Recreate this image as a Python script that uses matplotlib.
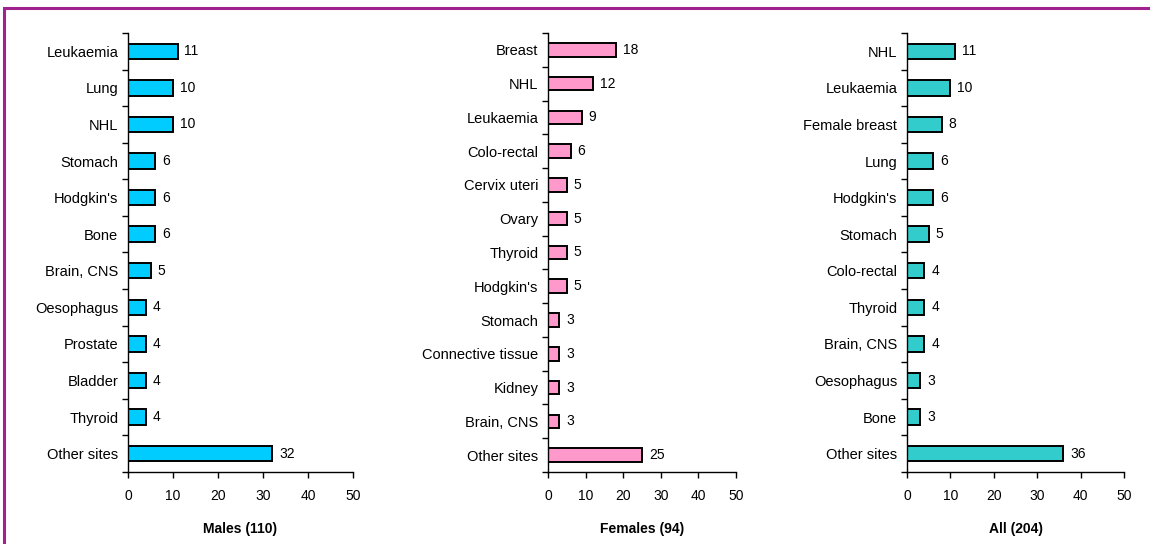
import matplotlib.pyplot as plt
from matplotlib.patches import Rectangle

plt.rcParams['font.family'] = ['Liberation Sans', 'DejaVu Sans']

# data, top to bottom
males_sites = ["Leukaemia", "Lung", "NHL", "Stomach", "Hodgkin's", "Bone",
               "Brain, CNS", "Oesophagus", "Prostate", "Bladder", "Thyroid",
               "Other sites"]
males_pct = [11, 10, 10, 6, 6, 6, 5, 4, 4, 4, 4, 32]

females_sites = ["Breast", "NHL", "Leukaemia", "Colo-rectal", "Cervix uteri",
                 "Ovary", "Thyroid", "Hodgkin's", "Stomach",
                 "Connective tissue", "Kidney", "Brain, CNS", "Other sites"]
females_pct = [18, 12, 9, 6, 5, 5, 5, 5, 3, 3, 3, 3, 25]

all_sites = ["NHL", "Leukaemia", "Female breast", "Lung", "Hodgkin's",
             "Stomach", "Colo-rectal", "Thyroid", "Brain, CNS", "Oesophagus",
             "Bone", "Other sites"]
all_pct = [11, 10, 8, 6, 6, 5, 4, 4, 4, 3, 3, 36]

titles = ["Males (110)", "Females (94)", "All (204)"]
xticks = [0, 10, 20, 30, 40, 50]

fig = plt.figure(figsize=(11.5, 5.44), dpi=100)

# purple frame
fig.patches.append(Rectangle((0.0035, -0.05), 1.1, 1.0355, transform=fig.transFigure,
                             fill=False, edgecolor='#A0228F', linewidth=2.2))

panels = [
    (males_sites, males_pct, '#00CCFF', [0.1113, 0.1324, 0.1957, 0.807], 0.42),
    (females_sites, females_pct, '#FF99CC', [0.4765, 0.1324, 0.1635, 0.807], 0.40),
    (all_sites, all_pct, '#33CCCC', [0.7887, 0.1324, 0.1887, 0.807], 0.42),
]

for (sites, vals, color, rect, h), title in zip(panels, titles):
    ax = fig.add_axes(rect)
    n = len(sites)
    ypos = list(range(n))
    ax.barh(ypos, vals, height=h, color=color, edgecolor='black', linewidth=1.4)
    for y, v in zip(ypos, vals):
        ax.annotate(str(v), (v, y), xytext=(5, 0), textcoords='offset points',
                    va='center', ha='left', fontsize=10)
    ax.set_ylim(n - 0.5, -0.5)
    ax.set_xlim(0, 50)
    ax.set_xticks(xticks)
    ax.set_yticks(ypos)
    ax.set_yticklabels(sites, fontsize=10.5)
    ax.set_yticks([i - 0.5 for i in range(n + 1)], minor=True)
    ax.tick_params(axis='y', which='major', length=0, pad=7)
    ax.tick_params(axis='y', which='minor', length=4, width=1)
    ax.tick_params(axis='x', length=4, width=1, labelsize=10, pad=8)
    for s in ['top', 'right']:
        ax.spines[s].set_visible(False)
    for s in ['left', 'bottom']:
        ax.spines[s].set_linewidth(1.0)
    ax.set_xlabel(title, fontsize=10, fontweight='bold', labelpad=14)

fig.savefig('out.png', dpi=100)
